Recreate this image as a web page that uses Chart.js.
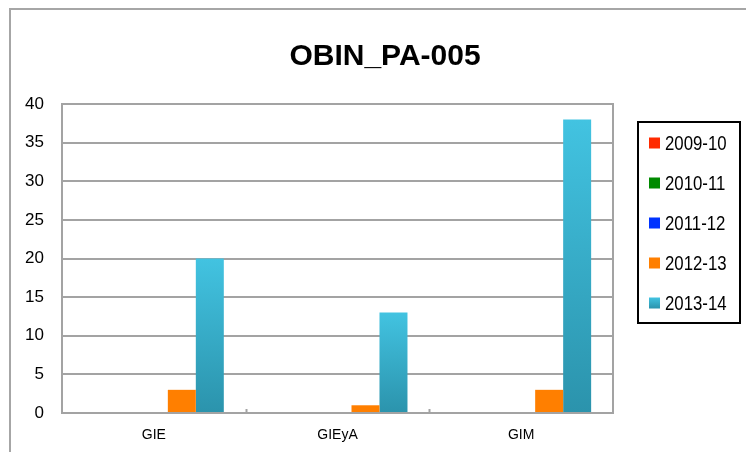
<!DOCTYPE html>
<html>
<head>
<meta charset="utf-8">
<style>
  html, body { margin: 0; padding: 0; background: #ffffff; }
  #wrap { width: 746px; height: 452px; }
</style>
<script src="https://cdn.jsdelivr.net/npm/chart.js@4.4.1/dist/chart.umd.min.js"></script>
</head>
<body>
<div id="wrap"><canvas id="c" width="746" height="452"></canvas></div>
<script>
const chartTitle = 'OBIN_PA-005';
const categories = ['GIE', 'GIEyA', 'GIM'];
const seriesLabels = ['2009-10', '2010-11', '2011-12', '2012-13', '2013-14'];
const values2009_10 = [0, 0, 0];
const values2010_11 = [0, 0, 0];
const values2011_12 = [0, 0, 0];
const values2012_13 = [3, 1, 3];
const values2013_14 = [20, 13, 38];
const yTicks = [0, 5, 10, 15, 20, 25, 30, 35, 40];

const SANS = '"Liberation Sans", Arial, sans-serif';
const GRID = '#a3a3a3';

function cyanGradient(ctx, top, bottom) {
  const g = ctx.createLinearGradient(0, top, 0, bottom);
  g.addColorStop(0, '#42c3e1');
  g.addColorStop(1, '#2b93ac');
  return g;
}

function cyanFill(context) {
  const chart = context.chart;
  const y = chart.scales.y;
  if (!y || !chart.chartArea) return '#39b0cc';
  const v = context.raw || 0;
  const top = y.getPixelForValue(v);
  const bottom = y.getPixelForValue(0);
  if (bottom - top < 1) return '#39b0cc';
  return cyanGradient(chart.ctx, top, bottom);
}

const seriesColors = ['#ff2a00', '#008a00', '#0033ff', '#ff7f00', cyanFill];
const seriesValues = [values2009_10, values2010_11, values2011_12, values2012_13, values2013_14];

const datasets = seriesLabels.map((lab, i) => ({
  label: lab,
  data: seriesValues[i],
  backgroundColor: seriesColors[i],
  borderWidth: 0,
  categoryPercentage: 0.762,
  barPercentage: 1.0
}));

const decorPlugin = {
  id: 'decor',
  beforeDraw(chart) {
    const ctx = chart.ctx;
    ctx.save();
    ctx.fillStyle = '#ffffff';
    ctx.fillRect(0, 0, chart.width, chart.height);
    ctx.strokeStyle = '#a6a6a6';
    ctx.lineWidth = 2;
    ctx.beginPath();
    ctx.moveTo(10, chart.height + 2);
    ctx.lineTo(10, 9);
    ctx.lineTo(chart.width + 2, 9);
    ctx.stroke();
    ctx.restore();
  },
  afterDatasetsDraw(chart) {
    const ctx = chart.ctx;
    const a = chart.chartArea;
    const x = chart.scales.x;
    ctx.save();
    ctx.strokeStyle = GRID;
    ctx.lineWidth = 2;
    ctx.strokeRect(a.left, a.top, a.right - a.left, a.bottom - a.top);
    const half = (x.getPixelForValue(1) - x.getPixelForValue(0)) / 2;
    ctx.beginPath();
    for (let i = 0; i < categories.length - 1; i++) {
      const px = Math.round(x.getPixelForValue(i) + half) + 0.5;
      ctx.moveTo(px, a.bottom);
      ctx.lineTo(px, a.bottom - 4);
    }
    ctx.stroke();
    ctx.restore();
  },
  afterDraw(chart) {
    const ctx = chart.ctx;
    ctx.save();
    ctx.fillStyle = '#000000';
    ctx.font = 'bold 30px ' + SANS;
    ctx.textAlign = 'center';
    ctx.textBaseline = 'alphabetic';
    ctx.fillText(chartTitle, 385, 65);
    ctx.strokeStyle = '#000000';
    ctx.lineWidth = 2;
    ctx.strokeRect(638, 122, 102, 201);
    ctx.font = '20px ' + SANS;
    ctx.textAlign = 'left';
    ctx.textBaseline = 'middle';
    chart.data.datasets.forEach((ds, i) => {
      const cy = 143 + i * 40;
      let fill = ds.backgroundColor;
      if (typeof fill === 'function') fill = cyanGradient(ctx, cy - 5.5, cy + 5.5);
      ctx.fillStyle = fill;
      ctx.fillRect(649, cy - 5.5, 11, 11);
      ctx.fillStyle = '#000000';
      ctx.save();
      ctx.translate(665, cy + 1);
      ctx.scale(0.84, 1);
      ctx.fillText(ds.label, 0, 0);
      ctx.restore();
    });
    ctx.restore();
  }
};

new Chart(document.getElementById('c'), {
  type: 'bar',
  data: { labels: categories, datasets: datasets },
  options: {
    responsive: false,
    animation: false,
    devicePixelRatio: 1,
    layout: { padding: { left: 10, top: 104, right: 133, bottom: 0 } },
    plugins: {
      legend: { display: false },
      title: { display: false },
      tooltip: { enabled: false }
    },
    scales: {
      x: {
        afterFit(scale) { scale.height = 39; },
        grid: { display: false, drawTicks: false },
        border: { display: false },
        ticks: {
          color: '#000000',
          padding: 14,
          font: { family: SANS, size: 14 }
        }
      },
      y: {
        min: 0,
        max: 40,
        afterFit(scale) { scale.width = 52; },
        afterBuildTicks(scale) { scale.ticks = yTicks.map(v => ({ value: v })); },
        grid: { color: GRID, lineWidth: 2, drawTicks: false },
        border: { display: false },
        ticks: {
          color: '#000000',
          padding: 18,
          font: { family: SANS, size: 17 }
        }
      }
    }
  },
  plugins: [decorPlugin]
});
</script>
</body>
</html>
